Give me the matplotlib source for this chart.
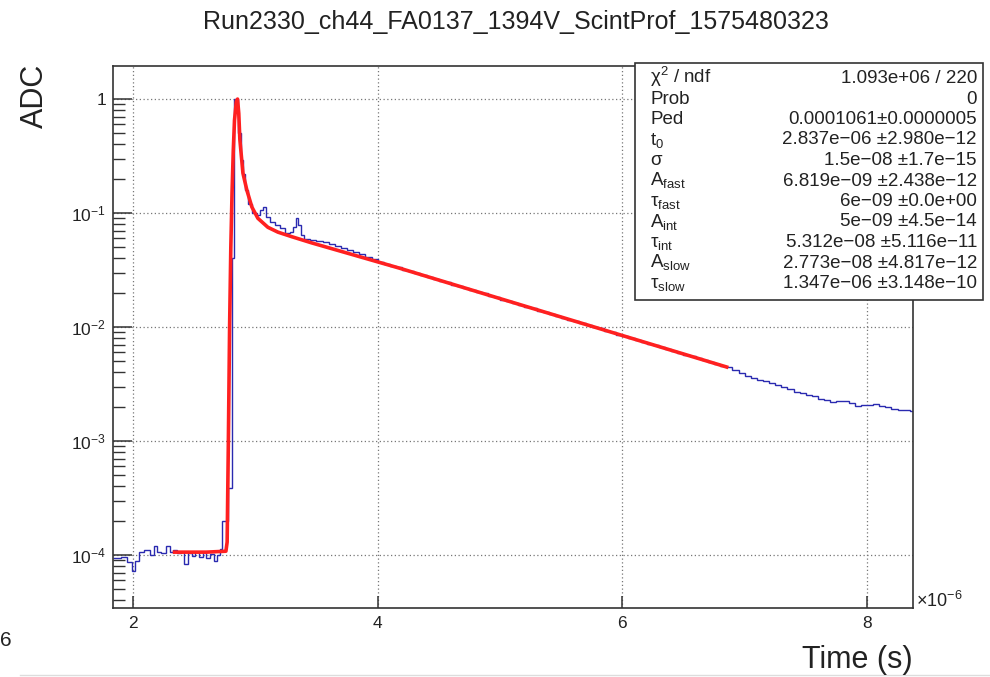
import matplotlib
matplotlib.use("Agg")
import matplotlib.pyplot as plt
from matplotlib.patches import Rectangle
from matplotlib.lines import Line2D
import numpy as np

plt.rcParams['font.family'] = ['Liberation Sans', 'DejaVu Sans']
plt.rcParams['mathtext.fontset'] = 'custom'
plt.rcParams['mathtext.rm'] = 'Liberation Sans'
plt.rcParams['mathtext.it'] = 'Liberation Sans:italic'

# scintillation profile histogram (time in units of 1e-6 s)
# pedestal + rising edge + peak, irregular bins
head_edges = [1.84, 1.90, 1.95, 1.99, 2.02, 2.05, 2.09, 2.14, 2.17, 2.20, 2.23, 2.27, 2.30,
              2.33, 2.36, 2.39, 2.42, 2.45, 2.48, 2.51, 2.54, 2.57, 2.60, 2.63, 2.66, 2.69,
              2.71, 2.73, 2.78, 2.81, 2.83, 2.86, 2.88, 2.90, 2.92, 2.94, 2.97, 3.01, 3.04,
              3.06, 3.09, 3.12, 3.16, 3.20, 3.24, 3.28, 3.31, 3.33, 3.35, 3.37, 3.40]
head_adc = [9.4e-5, 9.7e-5, 8.6e-5, 7.2e-5, 8.9e-5, 1.07e-4, 1.10e-4, 1.00e-4, 1.21e-4, 1.07e-4,
            1.05e-4, 1.20e-4, 1.07e-4, 1.10e-4, 1.05e-4, 1.06e-4, 8.4e-5, 1.05e-4, 9.8e-5,
            1.06e-4, 9.6e-5, 1.06e-4, 9.4e-5, 1.02e-4, 8.9e-5, 1.00e-4, 1.13e-4, 2.0e-4,
            3.9e-4, 0.040, 1.0, 0.50, 0.29, 0.22, 0.16, 0.12, 0.10, 0.096, 0.106, 0.113,
            0.092, 0.083, 0.079, 0.074, 0.067, 0.068, 0.075, 0.090, 0.079, 0.064]

# slow tail, 0.05 wide bins starting at 3.40
tail_start = 3.40
tail_width = 0.05
tail_adc = [0.0595, 0.0585, 0.0572, 0.0552, 0.0532, 0.0513, 0.0493, 0.0475, 0.0458, 0.0441,
            0.0415, 0.0394, 0.0372, 0.0358, 0.0344, 0.0333, 0.0317, 0.0309, 0.0296, 0.0287,
            0.0273, 0.0266, 0.0255, 0.0247, 0.0235, 0.0229, 0.0218, 0.0213, 0.0202, 0.0197,
            0.0187, 0.0183, 0.0174, 0.0170, 0.0161, 0.0157, 0.0150, 0.0146, 0.0139, 0.0136,
            0.0129, 0.0126, 0.0121, 0.0116, 0.0113, 0.0108, 0.0105, 0.0100, 0.00975, 0.00925,
            0.00900, 0.00858, 0.00835, 0.00797, 0.00775, 0.00745, 0.00716, 0.00692, 0.00662,
            0.00643, 0.00617, 0.00596, 0.00572, 0.00553, 0.00530, 0.00514, 0.00492, 0.00477,
            0.00458, 0.00442, 0.00418, 0.00398, 0.00372, 0.00356, 0.00344, 0.00334, 0.00322,
            0.00312, 0.00300, 0.00284, 0.00270, 0.00262, 0.00254, 0.00246, 0.00236, 0.00227,
            0.00219, 0.00223, 0.00224, 0.00214, 0.00204, 0.00206, 0.00208, 0.00210, 0.00203,
            0.00197, 0.00191, 0.00186, 0.00186, 0.00182]

# fitted pulse shape
fit_t = [2.34, 2.60, 2.76, 2.77, 2.78, 2.79, 2.80, 2.81, 2.82, 2.83, 2.845, 2.855, 2.865,
         2.874, 2.899, 2.931, 2.972, 3.021, 3.103, 3.185, 3.299, 3.462, 4.181, 4.998,
         5.815, 6.853]
fit_adc = [1.06e-4, 1.06e-4, 1.08e-4, 1.3e-4, 1.0e-3, 0.01, 0.05, 0.15, 0.35, 0.65, 0.95,
           1.0, 0.75, 0.44, 0.224, 0.159, 0.113, 0.090, 0.075, 0.068, 0.062, 0.0547,
           0.0328, 0.0178, 0.00968, 0.00446]

# fit statistics
stat_names = ["χ$^{2}$ / ndf", "Prob", "Ped", "t$_{0}$", "σ", "A$_{\\mathrm{fast}}$",
              "τ$_{\\mathrm{fast}}$", "A$_{\\mathrm{int}}$", "τ$_{\\mathrm{int}}$",
              "A$_{\\mathrm{slow}}$", "τ$_{\\mathrm{slow}}$"]
stat_values = ["1.093e+06 / 220", "0", "0.0001061±0.0000005", "2.837e−06 ±2.980e−12",
               "1.5e−08 ±1.7e−15", "6.819e−09 ±2.438e−12", "6e−09 ±0.0e+00",
               "5e−09 ±4.5e−14", "5.312e−08 ±5.116e−11", "2.773e−08 ±4.817e−12",
               "1.347e−06 ±3.148e−10"]

ytick_vals = [1e-4, 1e-3, 1e-2, 1e-1, 1]
ytick_labels = ["10$^{-4}$", "10$^{-3}$", "10$^{-2}$", "10$^{-1}$", "1"]
xtick_vals = [2, 4, 6, 8]

# full set of bin edges and contents
tail_edges = tail_start + tail_width * np.arange(1, len(tail_adc) + 1)
edges = np.concatenate([head_edges, tail_edges])
adc = np.concatenate([head_adc, tail_adc])

W, H = 990, 677
fig = plt.figure(figsize=(W / 100, H / 100), dpi=100)
ax = fig.add_axes([113 / W, 1 - 608 / H, 800 / W, 542 / H])

ax.stairs(adc, edges, baseline=None, color='#2a2ab0', lw=1.0, zorder=2)
ax.plot(fit_t, fit_adc, color='#ff2020', lw=2.6, zorder=3)

ax.set_yscale('log')
ax.set_xlim(1.837, 8.376)
ax.set_ylim(3.43e-5, 1.95)
ax.set_yticks(ytick_vals, ytick_labels)
ax.set_xticks(xtick_vals, [str(v) for v in xtick_vals])
ax.xaxis.set_minor_locator(matplotlib.ticker.NullLocator())

ax.grid(True, which='major', linestyle=(0, (1, 2)), color='#777777', lw=0.9)
ax.tick_params(axis='y', which='major', direction='in', length=14, width=1.1,
               color='#333333', labelsize=12.5, pad=5, labelcolor='#222222')
ax.tick_params(axis='y', which='minor', direction='in', length=8.5, width=1.0,
               color='#333333')
ax.tick_params(axis='x', which='major', direction='in', length=9, width=1.1,
               color='#333333', labelsize=12.5, pad=6, labelcolor='#222222')
for s in ax.spines.values():
    s.set_color('#333333')
    s.set_linewidth(1.2)

fig.text(516 / W, 1 - 22 / H, "Run2330_ch44_FA0137_1394V_ScintProf_1575480323",
         ha='center', va='center', fontsize=18, color='#222222')
fig.text(35 / W, 1 - 64 / H, "ADC", rotation=90, ha='center', va='top',
         fontsize=22, color='#222222')
fig.text(913 / W, 1 - 660 / H, "Time (s)", ha='right', va='center',
         fontsize=22, color='#222222')
fig.text(916 / W, 1 - 607 / H, "×10$^{-6}$", ha='left', va='baseline',
         fontsize=13, color='#222222')
fig.text(0, 1 - 640 / H, "6", ha='left', va='center', fontsize=15,
         color='#222222')

# stats box
fig.add_artist(Rectangle((635 / W, 1 - 300 / H), 348 / W, 237 / H,
                         transform=fig.transFigure, facecolor='white',
                         edgecolor='#333333', lw=1.2, zorder=5))
for i, (name, val) in enumerate(zip(stat_names, stat_values)):
    yb = 1 - (83 + 20.5 * i) / H
    fig.text(650 / W, yb, name, ha='left', va='baseline', fontsize=13.5,
             color='#222222', zorder=6)
    fig.text(977 / W, yb, val, ha='right', va='baseline', fontsize=13.5,
             color='#222222', zorder=6)

fig.add_artist(Line2D([20 / W, 1], [1 - 675 / H, 1 - 675 / H],
                      transform=fig.transFigure, color='#dddddd', lw=1))

fig.savefig("out.png", dpi=100)
